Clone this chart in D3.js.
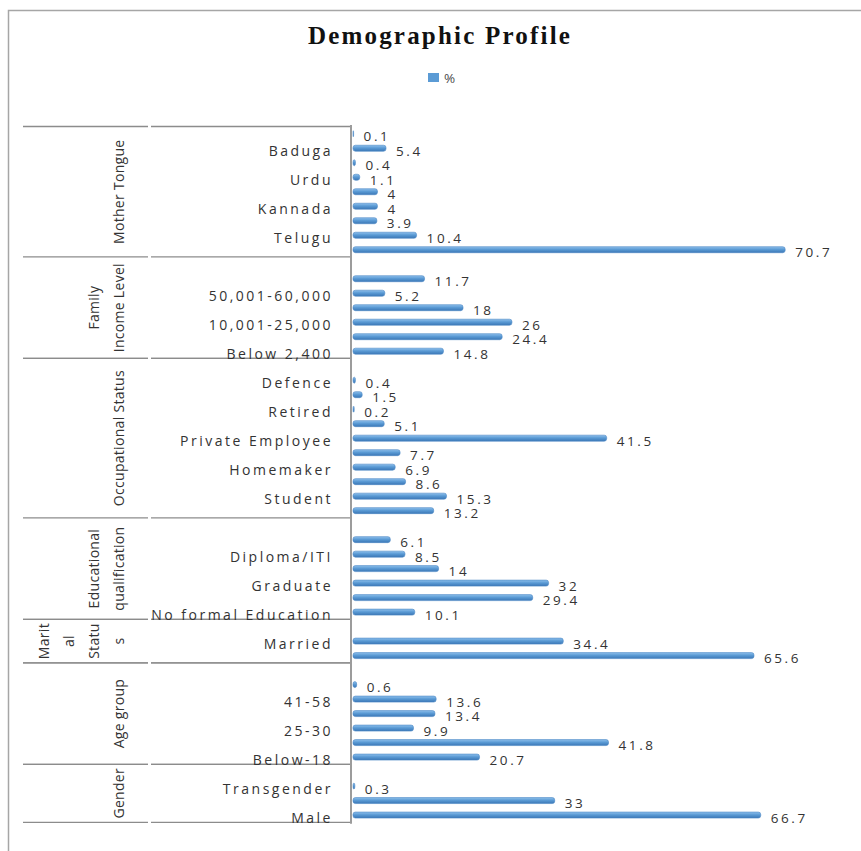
<!DOCTYPE html>
<html>
<head>
<meta charset="utf-8">
<script src="https://cdn.jsdelivr.net/npm/d3@7"></script>
<style>
  html, body { margin: 0; padding: 0; background: #ffffff; }
  svg { display: block; }
</style>
</head>
<body>
<svg id="chart" width="861" height="851"></svg>
<script>
// Survey groups, bottom to top, with their wrapped axis captions
const groupLabels = [
  ["Gender"],
  ["Age group"],
  ["Marit", "al", "Statu", "s"],
  ["Educational", "qualification"],
  ["Occupational Status"],
  ["Family", "Income Level"],
  ["Mother Tongue"]
];
const groupSizes = [3, 6, 2, 6, 10, 6, 9];

// Category captions (empty where the axis skips the caption), bottom to top
const categories = [
  "Male", "", "Transgender",
  "Below-18", "", "25-30", "", "41-58", "",
  "", "Married",
  "No formal Education", "", "Graduate", "", "Diploma/ITI", "",
  "", "Student", "", "Homemaker", "", "Private Employee", "", "Retired", "", "Defence",
  "Below 2,400", "", "10,001-25,000", "", "50,001-60,000", "",
  "", "Telugu", "", "Kannada", "", "Urdu", "", "Baduga", ""
];

// Share of respondents (%)
const values = [
  66.7, 33, 0.3,
  20.7, 41.8, 9.9, 13.4, 13.6, 0.6,
  65.6, 34.4,
  10.1, 29.4, 32, 14, 8.5, 6.1,
  13.2, 15.3, 8.6, 6.9, 7.7, 41.5, 5.1, 0.2, 1.5, 0.4,
  14.8, 24.4, 26, 18, 5.2, 11.7,
  70.7, 10.4, 3.9, 4, 4, 1.1, 0.4, 5.4, 0.1
];

const seriesName = "%";
const xDomain = [0, 80];

// ---- layout: one slot per category, plus a spacer slot above each group but the last
const rows = [];
const spans = [];
let slot = 0, k = 0;
groupSizes.forEach((n, g) => {
  const start = slot;
  for (let i = 0; i < n; i++, k++) {
    rows.push({ slot: slot++, label: categories[k], value: values[k] });
  }
  if (g < groupSizes.length - 1) slot++;
  spans.push({ g, start, end: slot - 1 });
});
const slotCount = slot;

const svg = d3.select("#chart");
const textColor = "#333333";
const uiFont = "'Open Sans', sans-serif";

const x = d3.scaleLinear().domain(xDomain).range([353, 842]);
const y = d3.scaleBand().domain(d3.range(slotCount)).range([822.3, 126.5]).padding(0);
const cy = s => y(s) + y.bandwidth() / 2;

// Outer chart frame
svg.append("path")
  .attr("d", "M8.5,851 L8.5,10.5 L861,10.5")
  .attr("fill", "none")
  .attr("stroke", "#a6a6a6")
  .attr("stroke-width", 1.5);

// Title
svg.append("text")
  .attr("x", 440).attr("y", 44)
  .attr("text-anchor", "middle")
  .attr("font-family", "'Liberation Serif', 'Times New Roman', serif")
  .attr("font-weight", "bold")
  .attr("font-size", 25)
  .attr("letter-spacing", 2.2)
  .attr("fill", "#111")
  .text("Demographic Profile");

// Legend
const legend = svg.append("g");
legend.append("rect")
  .attr("x", 428).attr("y", 73).attr("width", 11).attr("height", 9)
  .attr("fill", "#5b9bd5");
legend.append("text")
  .attr("x", 444).attr("y", 82.5)
  .attr("font-family", uiFont)
  .attr("font-size", 13.5)
  .attr("fill", "#4d4d4d")
  .text(seriesName);

// Bar gradient
const defs = svg.append("defs");
const grad = defs.append("linearGradient")
  .attr("id", "barFill").attr("x1", 0).attr("y1", 0).attr("x2", 0).attr("y2", 1);
grad.append("stop").attr("offset", "0%").attr("stop-color", "#8fc0ec");
grad.append("stop").attr("offset", "45%").attr("stop-color", "#5b9bd5");
grad.append("stop").attr("offset", "100%").attr("stop-color", "#3b77b6");

// Group separators on the category axis
const edges = new Set();
spans.forEach(s => {
  edges.add(y(s.start) + y.bandwidth());
  edges.add(y(s.end));
});
const sep = svg.append("g").attr("stroke", "#8c8c8c").attr("stroke-width", 1.3);
[...edges].forEach(e => {
  sep.append("line").attr("x1", 23).attr("x2", 148).attr("y1", e).attr("y2", e);
  sep.append("line").attr("x1", 151).attr("x2", 351).attr("y1", e).attr("y2", e);
});

// Vertical category axis line
svg.append("line")
  .attr("x1", 351).attr("x2", 351)
  .attr("y1", y.range()[1] - 1.5).attr("y2", y.range()[0] + 1.5)
  .attr("stroke", "#9c9c9c").attr("stroke-width", 2);

// Bars
svg.append("g").selectAll("rect")
  .data(rows)
  .join("rect")
  .attr("x", x(0))
  .attr("y", d => cy(d.slot) - 3)
  .attr("width", d => x(d.value) - x(0))
  .attr("height", 6)
  .attr("rx", 2.4)
  .attr("fill", "url(#barFill)")
  .attr("stroke", "#4a86c5")
  .attr("stroke-width", 0.6);

// Value labels
svg.append("g").selectAll("text")
  .data(rows)
  .join("text")
  .attr("x", d => x(d.value) + 10)
  .attr("y", d => cy(d.slot) + 2.5)
  .attr("dominant-baseline", "central")
  .attr("font-family", uiFont)
  .attr("font-size", 13.5)
  .attr("letter-spacing", 2.6)
  .attr("fill", textColor)
  .text(d => d.value);

// Category captions
svg.append("g").selectAll("text")
  .data(rows.filter(d => d.label))
  .join("text")
  .attr("x", 333)
  .attr("y", d => cy(d.slot) + 2.5)
  .attr("text-anchor", "end")
  .attr("dominant-baseline", "central")
  .attr("font-family", uiFont)
  .attr("font-size", 14)
  .attr("letter-spacing", 2.5)
  .attr("fill", textColor)
  .text(d => d.label);

// Group captions, rotated, stacked towards the category captions
const gl = svg.append("g");
spans.forEach(s => {
  const mid = (y(s.start) + y.bandwidth() + y(s.end)) / 2;
  const lines = groupLabels[s.g];
  lines.forEach((ln, i) => {
    const lx = 118 - (lines.length - 1 - i) * 25;
    gl.append("text")
      .attr("transform", `translate(${lx},${mid}) rotate(-90)`)
      .attr("text-anchor", "middle")
      .attr("dominant-baseline", "central")
      .attr("font-family", uiFont)
      .attr("font-size", 14)
      .attr("letter-spacing", 0.3)
      .attr("fill", textColor)
      .text(ln);
  });
});
</script>
</body>
</html>
